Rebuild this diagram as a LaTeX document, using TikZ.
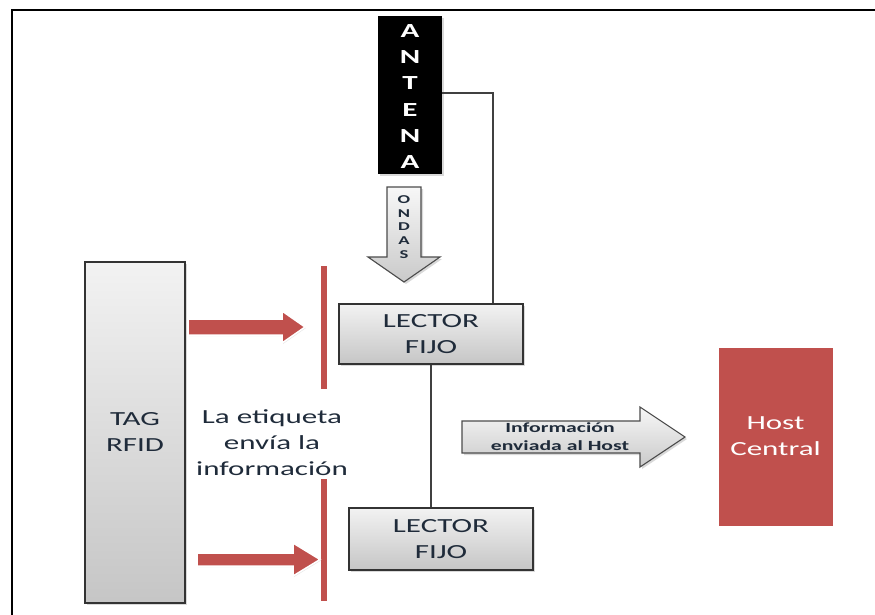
\documentclass[tikz,border=0pt]{standalone}
\usepackage{fontspec}
\setmainfont[FakeStretch=1.55]{Carlito}
\usetikzlibrary{shadows}
\definecolor{redC}{HTML}{C0504D}
\definecolor{txtC}{HTML}{1F2B3A}
\definecolor{lineC}{HTML}{404040}
\begin{document}
\begin{tikzpicture}[x=1pt,y=-1pt,
 shd/.style={drop shadow={opacity=0.3,shadow xshift=2pt,shadow yshift=-2pt}},
 graybox/.style={draw=black!80,line width=1.5pt,top color=gray!10,bottom color=gray!45,shd,inner sep=0pt,text=txtC,align=center,font=\fontsize{20}{26}\selectfont},
 conn/.style={draw=lineC,line width=1.4pt},
 redbar/.style={draw=white,line width=1.5pt,fill=redC,inner sep=0pt,minimum width=8pt,drop shadow={opacity=0.18,shadow xshift=1pt,shadow yshift=-1pt}},
 redarrow/.style={draw=white,line width=1.5pt,fill=redC,drop shadow={opacity=0.18,shadow xshift=1pt,shadow yshift=-1pt}},
 grayarrow/.style={draw=black!70,line width=1.1pt,top color=gray!6,bottom color=gray!42,shd},
 lbl/.style={text=txtC,align=center,font=\fontsize{20}{26}\selectfont}
]
\useasboundingbox (0,0) rectangle (875,614);
\draw[line width=2.5pt] (12,620) -- (12,10) -- (880,10);

% antenna
\node[fill=black,inner sep=0pt,minimum width=64pt,minimum height=158pt,shd] (ant) at (410,95) {};
\node[text=white,align=center,font=\bfseries\fontsize{20}{26.2}\selectfont] (antt) at ([yshift=-1.5pt]ant.center) {A\\N\\T\\E\\N\\A};

% readers
\node[graybox,minimum width=184pt,minimum height=60pt] (lec1) at (431,334) {LECTOR\\FIJO};
\node[graybox,minimum width=184pt,minimum height=62pt] (lec2) at (441,539) {LECTOR\\FIJO};

% connectors
\draw[conn] ([yshift=2pt]ant.east) -| ([xshift=62pt]lec1.north);
\draw[conn] (lec1.south) -- (lec1.south |- lec2.north);

% tag
\node[graybox,minimum width=100pt,minimum height=341pt] (tag) at (135,432.5) {TAG\\RFID};

% host
\node[fill=redC,draw=white,line width=3pt,minimum width=117pt,minimum height=181pt,inner sep=0pt,text=white,align=center,font=\fontsize{20}{26}\selectfont,drop shadow={opacity=0.25,shadow xshift=2pt,shadow yshift=-2pt}] (host) at (775.5,436.5) {Host\\Central};

% red bars
\node[redbar,minimum height=125pt] (bar1) at (324,327.5) {};
\node[redbar,minimum height=124pt] (bar2) at (324,540) {};

% red arrows
\path[redarrow] (188,319) -- (282,319) -- (282,311) -- (305,327) -- (282,343) -- (282,335) -- (188,335) -- cycle;
\path[redarrow] (197,553) -- (293,553) -- (293,543) -- (320,559.5) -- (293,576) -- (293,566) -- (197,566) -- cycle;

% ondas arrow
\path[grayarrow] (387,187) -- (421,187) -- (421,257) -- (440,257) -- (404,282) -- (368,257) -- (387,257) -- cycle;
\node[font=\bfseries\fontsize{12}{13.6}\selectfont,text=txtC,align=center] (ondas) at (404,227) {O\\N\\D\\A\\S};

% info arrow
\path[grayarrow] (462,421) -- (640,421) -- (640,407) -- (685,437) -- (640,467) -- (640,453) -- (462,453) -- cycle;
\node[font=\bfseries\fontsize{14}{18}\selectfont,text=txtC,align=center] (info) at (560,437) {Información\\enviada al Host};

% label
\node[lbl] (lbl) at (272,443) {La etiqueta\\envía la\\información};
\end{tikzpicture}
\end{document}
